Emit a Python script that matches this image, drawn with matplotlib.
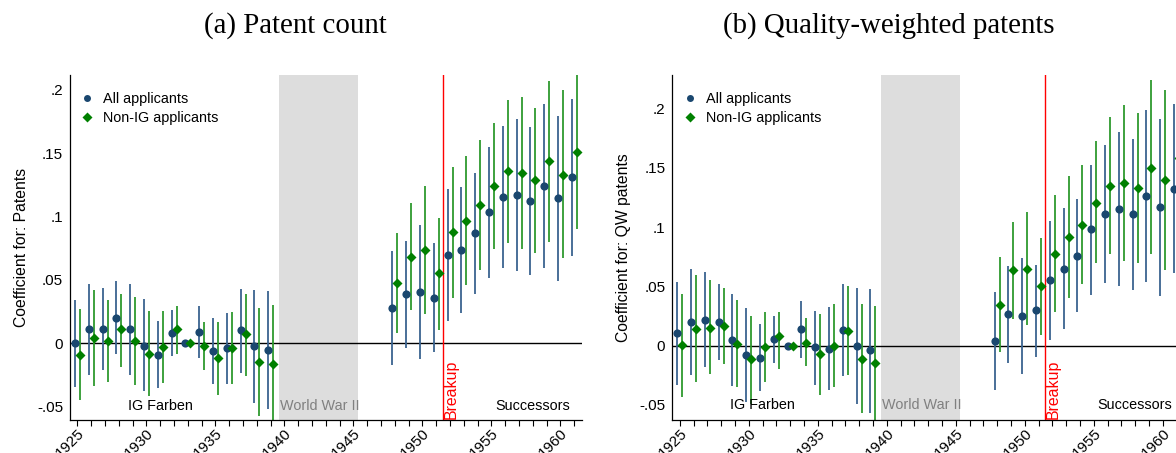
import matplotlib

matplotlib.use("Agg")
import matplotlib.pyplot as plt
import numpy as np
from matplotlib.ticker import FixedLocator, FuncFormatter, MultipleLocator

plt.rcParams["font.family"] = ["Liberation Sans", "DejaVu Sans"]

# event-study years (1933 is the omitted base year)
years = [1925, 1926, 1927, 1928, 1929, 1930, 1931, 1932, 1933, 1934, 1935, 1936, 1937, 1938, 1939,
         1948, 1949, 1950, 1951, 1952, 1953, 1954, 1955, 1956, 1957, 1958, 1959, 1960, 1961]

# (a) patent count
count_all = [0.000, 0.011, 0.011, 0.0197, 0.011, -0.0024, -0.0092, 0.008, 0.0, 0.0087, -0.006, -0.0037, 0.0105, -0.0026, -0.0058,
             0.0276, 0.0384, 0.040, 0.0358, 0.0692, 0.0737, 0.0866, 0.1034, 0.1153, 0.117, 0.1124, 0.1242, 0.1145, 0.131]
count_all_lo = [-0.0347, -0.0255, -0.0216, -0.009, -0.025, -0.038, -0.0355, -0.010, 0.0, -0.0116, -0.032, -0.032, -0.0234, -0.047, -0.052,
                -0.0171, -0.0037, -0.013, -0.0074, 0.0174, 0.024, 0.0384, 0.0516, 0.059, 0.057, 0.0534, 0.0592, 0.049, 0.069]
count_all_hi = [0.0337, 0.047, 0.0437, 0.0487, 0.047, 0.0345, 0.0174, 0.026, 0.0, 0.029, 0.020, 0.024, 0.043, 0.042, 0.041,
                0.0724, 0.0808, 0.093, 0.079, 0.1213, 0.1234, 0.1345, 0.155, 0.1718, 0.177, 0.171, 0.189, 0.1797, 0.193]
count_nonig = [-0.0095, 0.004, 0.0013, 0.0108, 0.0013, -0.0084, -0.0032, 0.011, 0.0, -0.002, -0.012, -0.0037, 0.0068, -0.0147, -0.0163,
               0.0476, 0.0679, 0.0732, 0.055, 0.0874, 0.0966, 0.1092, 0.1242, 0.1358, 0.134, 0.129, 0.1437, 0.133, 0.151]
count_nonig_lo = [-0.0447, -0.034, -0.031, -0.019, -0.0334, -0.042, -0.0316, -0.0084, 0.0, -0.021, -0.041, -0.032, -0.026, -0.0576, -0.065,
                  0.0079, 0.0258, 0.0226, 0.010, 0.0358, 0.0458, 0.058, 0.074, 0.079, 0.074, 0.0713, 0.0795, 0.0668, 0.090]
count_nonig_hi = [0.0266, 0.042, 0.034, 0.039, 0.036, 0.025, 0.025, 0.029, 0.0, 0.017, 0.0163, 0.0247, 0.039, 0.028, 0.0297,
                  0.087, 0.1105, 0.1237, 0.099, 0.1387, 0.148, 0.160, 0.174, 0.1916, 0.1947, 0.186, 0.207, 0.1995, 0.214]

# (b) quality-weighted patents
qw_all = [0.0105, 0.0198, 0.0218, 0.020, 0.0048, -0.0079, -0.010, 0.0054, 0.0, 0.0141, -0.0014, -0.0025, 0.0133, 0.0, -0.004,
          0.004, 0.0266, 0.025, 0.0297, 0.055, 0.065, 0.076, 0.098, 0.1107, 0.115, 0.1107, 0.126, 0.117, 0.1325]
qw_all_lo = [-0.033, -0.025, -0.018, -0.012, -0.034, -0.0475, -0.0384, -0.015, 0.0, -0.010, -0.033, -0.0376, -0.0254, -0.049, -0.0565,
             -0.0376, -0.0144, -0.024, -0.0093, 0.0048, 0.014, 0.028, 0.043, 0.0528, 0.050, 0.047, 0.054, 0.042, 0.061]
qw_all_hi = [0.054, 0.065, 0.062, 0.052, 0.0435, 0.0316, 0.018, 0.0254, 0.0, 0.038, 0.029, 0.033, 0.052, 0.049, 0.048,
             0.045, 0.0675, 0.074, 0.068, 0.105, 0.1164, 0.124, 0.152, 0.169, 0.1805, 0.174, 0.199, 0.191, 0.204]
qw_nonig = [0.0003, 0.014, 0.015, 0.017, 0.0011, -0.0116, -0.0008, 0.0082, 0.0, 0.0025, -0.0073, 0.0, 0.0124, -0.0116, -0.015,
            0.0345, 0.0636, 0.065, 0.050, 0.0777, 0.0915, 0.102, 0.1206, 0.1345, 0.137, 0.133, 0.150, 0.140, 0.158]
qw_nonig_lo = [-0.043, -0.031, -0.024, -0.0155, -0.0347, -0.049, -0.031, -0.020, 0.0, -0.017, -0.042, -0.035, -0.025, -0.0565, -0.064,
               -0.0056, 0.0223, 0.0175, 0.009, 0.0288, 0.040, 0.052, 0.070, 0.077, 0.071, 0.070, 0.077, 0.0636, 0.082]
qw_nonig_hi = [0.044, 0.060, 0.055, 0.049, 0.0387, 0.025, 0.028, 0.028, 0.0, 0.0237, 0.027, 0.035, 0.050, 0.035, 0.0336,
               0.075, 0.1045, 0.113, 0.091, 0.127, 0.143, 0.152, 0.173, 0.1927, 0.203, 0.196, 0.224, 0.216, 0.234]

series_labels = ["All applicants", "Non-IG applicants"]
panel_titles = ["(a) Patent count", "(b) Quality-weighted patents"]
panel_ylabels = ["Coefficient for: Patents", "Coefficient for: QW patents"]
yticks = [-0.05, 0, 0.05, 0.1, 0.15, 0.2]
war_span = (1939.6, 1945.3)
breakup_year = 1951.5

NAVY = "#1a476f"
NAVY_CI = "#3a6390"
GREEN = "#008000"
GREEN_CI = "#2e9a2e"
FS = 10.4
TICK_FS = 11


def stata_fmt(v, _pos=None):
    if abs(v) < 1e-9:
        return "0"
    s = f"{v:g}"
    return s.replace("0.", ".")


def draw_panel(ax, all_c, all_lo, all_hi, ng_c, ng_lo, ng_hi, ylim, ylabel):
    x = np.asarray(years, dtype=float)
    off = 0.18
    ax.axvspan(*war_span, color="#dddddd", lw=0, zorder=0)
    ax.axhline(0, color="black", lw=1.0, zorder=1)
    ax.axvline(breakup_year, color="red", lw=1.0, zorder=1)

    ax.vlines(x - off, all_lo, all_hi, color=NAVY_CI, lw=1.3, zorder=2)
    ax.vlines(x + off, ng_lo, ng_hi, color=GREEN_CI, lw=1.3, zorder=2)
    ax.plot(x - off, all_c, "o", color=NAVY, ms=5.9, mec="none", zorder=3, label=series_labels[0])
    ax.plot(x + off, ng_c, "D", color=GREEN, ms=5.4, mec="none", zorder=3, label=series_labels[1])

    ax.set_xlim(1924.46, 1961.56)
    ax.set_ylim(*ylim)
    ax.xaxis.set_major_locator(MultipleLocator(5))
    ax.xaxis.set_minor_locator(MultipleLocator(1))
    ax.tick_params(axis="x", which="both", direction="out", length=4, width=0.8, labelsize=TICK_FS, pad=0.5)
    for lab in ax.get_xticklabels():
        lab.set_rotation(45)
        lab.set_ha("right")
        lab.set_rotation_mode("anchor")
    ax.yaxis.set_major_locator(FixedLocator(yticks))
    ax.yaxis.set_major_formatter(FuncFormatter(stata_fmt))
    ax.tick_params(axis="y", length=0, labelsize=TICK_FS, pad=5)
    for side in ("top", "right"):
        ax.spines[side].set_visible(False)
    for side in ("left", "bottom"):
        ax.spines[side].set_linewidth(0.9)
    ax.set_ylabel(ylabel, fontsize=11.3, labelpad=6)

    ax.text(1931, -0.05, "IG Farben", ha="center", va="center", fontsize=FS)
    ax.text(war_span[0] + 0.05, -0.05, "World War II", ha="left", va="center", fontsize=FS, color="#808080")
    ax.text(1958, -0.05, "Successors", ha="center", va="center", fontsize=FS)
    ax.text(breakup_year + 0.6, ylim[0] + 0.001, "Breakup", rotation=90, ha="center", va="bottom",
            fontsize=11.4, color="red")

    ax.legend(loc="upper left", bbox_to_anchor=(0.0, 0.98), frameon=False, fontsize=FS,
              handlelength=1.0, handletextpad=0.6, labelspacing=0.35, borderaxespad=0.3,
              markerscale=0.85)


fig = plt.figure(figsize=(11.76, 4.53), dpi=100)
ax_a = fig.add_axes([70 / 1176, 33 / 453, 512 / 1176, 345 / 453])
ax_b = fig.add_axes([672.3 / 1176, 33 / 453, 512 / 1176, 345 / 453])

draw_panel(ax_a, count_all, count_all_lo, count_all_hi, count_nonig, count_nonig_lo, count_nonig_hi,
           (-0.0608, 0.2117), panel_ylabels[0])
draw_panel(ax_b, qw_all, qw_all_lo, qw_all_hi, qw_nonig, qw_nonig_lo, qw_nonig_hi,
           (-0.0627, 0.2283), panel_ylabels[1])

fig.text(295 / 1176, 1 - 26 / 453, panel_titles[0], ha="center", va="center",
         fontsize=20.8, family="Liberation Serif")
fig.text(889 / 1176, 1 - 26 / 453, panel_titles[1], ha="center", va="center",
         fontsize=20.8, family="Liberation Serif")

fig.savefig("out.png", dpi=100)
